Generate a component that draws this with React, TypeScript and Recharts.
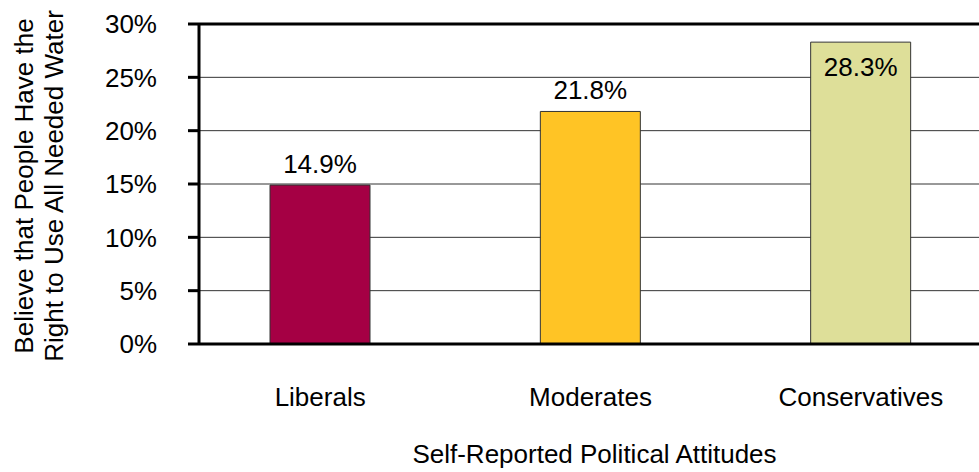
import { BarChart, Bar, XAxis, YAxis, CartesianGrid, ReferenceLine, LabelList, Cell } from 'recharts';

// data
const categories = ['Liberals', 'Moderates', 'Conservatives'];
const shares = [0.149, 0.218, 0.283];
const barColors = ['#A50044', '#FFC425', '#DEDF99'];
const yTicks = [0, 0.05, 0.1, 0.15, 0.2, 0.25, 0.3];

const yTitle = ['Believe that People Have the', 'Right to Use All Needed Water'];
const xTitle = 'Self-Reported Political Attitudes';

const FONT = '"Liberation Sans", Arial, sans-serif';
const FS = 26;
const PLOT_TOP = 24;

const data = categories.map((name, i) => ({ name, share: shares[i] }));

const pct = (v: number) => `${Math.round(v * 100)}%`;

// Excel-style label: above the bar, or inside the top when there is no room
function ValueLabel(props: any) {
    const { x, y, width, value } = props;
    const cx = Number(x) + Number(width) / 2;
    const outside = Number(y) - 40 >= PLOT_TOP;
    const baseY = outside ? Number(y) - 12 : Number(y) + 34;
    return (
        <text x={cx} y={baseY} textAnchor="middle" fontSize={FS} fill="#000" fontFamily={FONT}>
            {`${(Number(value) * 100).toFixed(1)}%`}
        </text>
    );
}

function YTitle(props: any) {
    const vb = props.viewBox || { x: 0, y: 0, width: 0, height: 0 };
    const cx = vb.x + 33;
    const cy = vb.y + vb.height / 2 + 2;
    return (
        <text
            transform={`rotate(-90, ${cx}, ${cy})`}
            x={cx}
            y={cy}
            textAnchor="middle"
            fontSize={FS}
            fill="#000"
            fontFamily={FONT}
        >
            <tspan x={cx} dy={0}>{yTitle[0]}</tspan>
            <tspan x={cx} dy={30}>{yTitle[1]}</tspan>
        </text>
    );
}

function XTitle(props: any) {
    const vb = props.viewBox || { x: 0, y: 0, width: 0, height: 0 };
    return (
        <text x={vb.x + vb.width / 2 - 3} y={vb.y + 119} textAnchor="middle" fontSize={FS} fill="#000" fontFamily={FONT}>
            {xTitle}
        </text>
    );
}

export default function App() {
    return (
        <div
            style={{
                position: 'absolute',
                left: 0,
                top: 0,
                width: 979,
                height: 472,
                overflow: 'hidden',
                background: '#fff',
                fontFamily: FONT,
            }}
        >
            <BarChart width={1000} height={472} data={data} margin={{ top: PLOT_TOP, right: 4, left: 0, bottom: 68 }}>
                <CartesianGrid vertical={false} stroke="#333" strokeWidth={1} />
                <XAxis
                    dataKey="name"
                    padding={{ left: -14, right: 0 }}
                    height={60}
                    tickLine={false}
                    tickSize={0}
                    tickMargin={44}
                    axisLine={{ stroke: '#000', strokeWidth: 3 }}
                    tick={{ fill: '#000', fontSize: FS, fontFamily: FONT }}
                    label={<XTitle />}
                />
                <YAxis
                    width={199}
                    domain={[0, 0.3]}
                    ticks={yTicks}
                    interval={0}
                    tickFormatter={pct}
                    tickSize={11}
                    tickMargin={31}
                    axisLine={{ stroke: '#000', strokeWidth: 3 }}
                    tickLine={{ stroke: '#000', strokeWidth: 3 }}
                    tick={{ fill: '#000', fontSize: FS, fontFamily: FONT }}
                    label={<YTitle />}
                />
                <ReferenceLine y={0.3} stroke="#000" strokeWidth={3} />
                <Bar dataKey="share" barSize={100} stroke="#333" strokeWidth={1} isAnimationActive={false}>
                    {data.map((d, i) => (
                        <Cell key={d.name} fill={barColors[i]} />
                    ))}
                    <LabelList dataKey="share" content={<ValueLabel />} />
                </Bar>
            </BarChart>
        </div>
    );
}
